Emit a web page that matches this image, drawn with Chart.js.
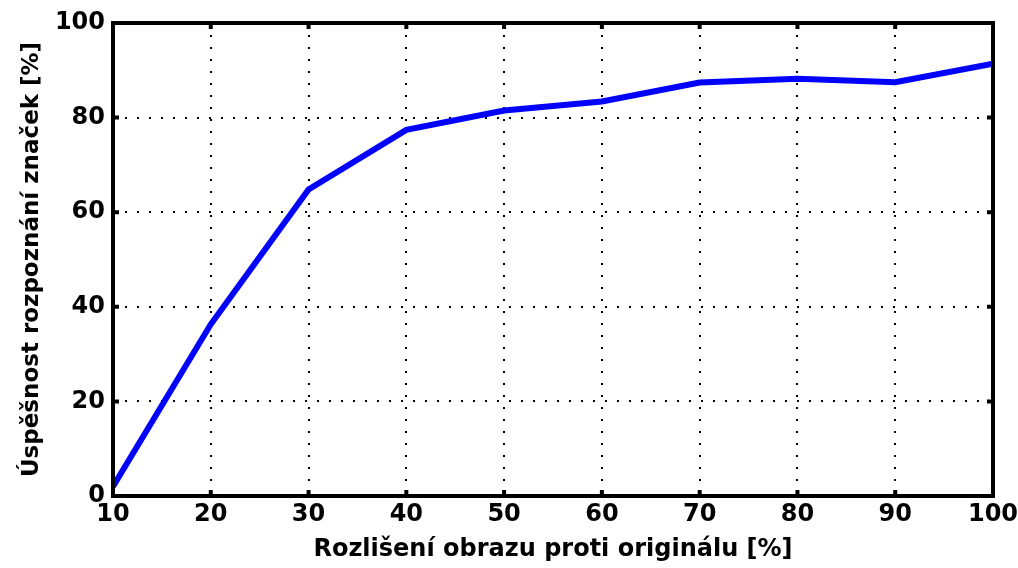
<!DOCTYPE html>
<html>
<head>
<meta charset="utf-8">
<script src="https://cdn.jsdelivr.net/npm/chart.js@4"></script>
<style>
  body { margin: 0; background: #fff; }
  #wrap { width: 1018px; height: 568px; }
</style>
</head>
<body>
<div id="wrap"><canvas id="c" width="1018" height="568"></canvas></div>
<script>
// resolution (% of original) vs sign recognition success (%)
const resolution = [10, 20, 30, 40, 50, 60, 70, 80, 90, 100];
const success = [2, 36.3, 64.8, 77.4, 81.5, 83.4, 87.4, 88.2, 87.5, 91.4];
const xTicks = [10, 20, 30, 40, 50, 60, 70, 80, 90, 100];
const yTicks = [0, 20, 40, 60, 80, 100];

const font = { family: 'DejaVu Sans, Arial, sans-serif', size: 24, weight: 'bold' };

// thick frame + little inward tick marks like matlab
const framePlugin = {
  id: 'frame',
  afterDraw(chart) {
    const ctx = chart.ctx;
    const a = chart.chartArea;
    const xs = chart.scales.x, ys = chart.scales.y;
    ctx.save();
    ctx.strokeStyle = '#000';
    ctx.lineWidth = 4;
    ctx.strokeRect(a.left, a.top, a.right - a.left, a.bottom - a.top);
    xTicks.forEach(v => {
      const px = xs.getPixelForValue(v);
      ctx.beginPath();
      ctx.moveTo(px, a.bottom); ctx.lineTo(px, a.bottom - 6);
      ctx.moveTo(px, a.top); ctx.lineTo(px, a.top + 6);
      ctx.stroke();
    });
    yTicks.forEach(v => {
      const py = ys.getPixelForValue(v);
      ctx.beginPath();
      ctx.moveTo(a.left, py); ctx.lineTo(a.left + 6, py);
      ctx.moveTo(a.right, py); ctx.lineTo(a.right - 6, py);
      ctx.stroke();
    });
    ctx.restore();
  }
};

new Chart(document.getElementById('c'), {
  type: 'line',
  data: {
    datasets: [{
      data: resolution.map((r, i) => ({ x: r, y: success[i] })),
      borderColor: '#0000ff',
      borderWidth: 6,
      pointRadius: 0,
      tension: 0,
      fill: false
    }]
  },
  options: {
    responsive: false,
    animation: false,
    layout: { padding: { top: 23, right: 25, left: 0, bottom: 0 } },
    plugins: { legend: { display: false }, tooltip: { enabled: false } },
    scales: {
      x: {
        type: 'linear',
        min: 10, max: 100,
        afterBuildTicks: s => { s.ticks = xTicks.map(v => ({ value: v })); },
        afterFit: s => { s.height = 72; s.paddingLeft = 0; s.paddingRight = 0; },
        border: { display: false, dash: [2, 10] },
        grid: { color: '#000', lineWidth: 2, drawTicks: false },
        ticks: { color: '#000', font: font, padding: 4, maxRotation: 0 },
        title: { display: true, text: 'Rozlišení obrazu proti originálu [%]', color: '#000', font: font, padding: { top: 0, bottom: 4 } }
      },
      y: {
        min: 0, max: 100,
        afterBuildTicks: s => { s.ticks = yTicks.map(v => ({ value: v })); },
        afterFit: s => { s.width = 113; s.paddingTop = 0; s.paddingBottom = 0; },
        border: { display: false, dash: [2, 10] },
        grid: { color: '#000', lineWidth: 2, drawTicks: false },
        ticks: { color: '#000', font: { family: font.family, size: 24, weight: 'bold' }, padding: 8 },
        title: { display: true, text: 'Úspěšnost rozpoznání značek [%]', color: '#000', font: { family: font.family, size: 23, weight: 'bold' }, padding: { top: 18, bottom: 2 } }
      }
    }
  },
  plugins: [framePlugin]
});
</script>
</body>
</html>
